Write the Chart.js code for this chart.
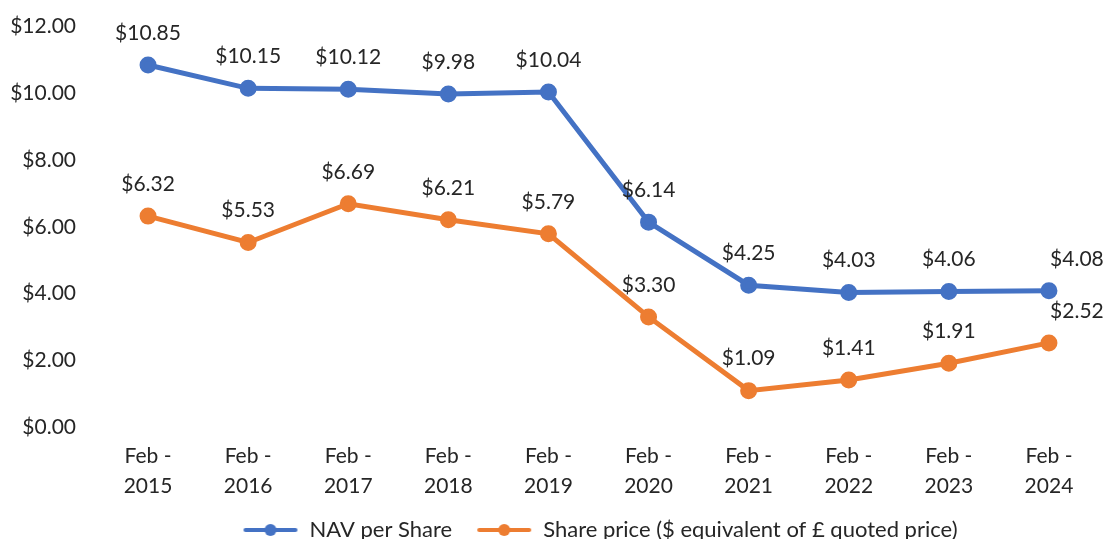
<!DOCTYPE html>
<html>
<head>
<meta charset="utf-8">
<script src="https://cdn.jsdelivr.net/npm/chart.js@4"></script>
<style>
  html, body { margin: 0; padding: 0; background: #fff; overflow: hidden; }
  #wrap { width: 1110px; height: 560px; }
</style>
</head>
<body>
<div id="wrap"><canvas id="myChart" width="1110" height="560"></canvas></div>
<script>
const years = ['2015', '2016', '2017', '2018', '2019', '2020', '2021', '2022', '2023', '2024'];
const navPerShare = [10.85, 10.15, 10.12, 9.98, 10.04, 6.14, 4.25, 4.03, 4.06, 4.08];
const sharePrice = [6.32, 5.53, 6.69, 6.21, 5.79, 3.30, 1.09, 1.41, 1.91, 2.52];
const yTicks = [0, 2, 4, 6, 8, 10, 12];

const labels = years.map(y => ['Feb -', y]);
const FONT = 'Lato, "Open Sans", sans-serif';
const FSIZE = 21;
const TXT = '#262626';

// legend marker: short line with a dot in the middle
function legendMarker(color) {
  const c = document.createElement('canvas');
  c.width = 56; c.height = 14;
  const g = c.getContext('2d');
  g.strokeStyle = color;
  g.lineWidth = 4;
  g.lineCap = 'round';
  g.beginPath(); g.moveTo(3, 7); g.lineTo(53, 7); g.stroke();
  g.fillStyle = color;
  g.beginPath(); g.arc(28, 7, 6, 0, Math.PI * 2); g.fill();
  return c;
}

// value labels above each point (last one nudged right like the original)
const valueLabels = {
  id: 'valueLabels',
  afterDatasetsDraw(chart) {
    const ctx = chart.ctx;
    ctx.save();
    ctx.font = FSIZE + 'px ' + FONT;
    ctx.fillStyle = TXT;
    ctx.textAlign = 'center';
    ctx.textBaseline = 'middle';
    chart.data.datasets.forEach((ds, i) => {
      const meta = chart.getDatasetMeta(i);
      meta.data.forEach((pt, j) => {
        const dx = j === meta.data.length - 1 ? 28 : 0;
        ctx.fillText('$' + ds.data[j].toFixed(2), pt.x + dx, pt.y - 32);
      });
    });
    ctx.restore();
  }
};

// legend sits a bit right of centre in the original
const legendShift = {
  id: 'legendShift',
  afterLayout(chart) {
    if (chart.legend) {
      chart.legend.left += 50;
      chart.legend.right += 50;
    }
  }
};

const ctx = document.getElementById('myChart').getContext('2d');
new Chart(ctx, {
  type: 'line',
  data: {
    labels: labels,
    datasets: [{
      label: 'NAV per Share',
      data: navPerShare,
      borderColor: '#4472C4',
      backgroundColor: '#4472C4',
      borderWidth: 5,
      tension: 0
    }, {
      label: 'Share price ($ equivalent of £ quoted price)',
      data: sharePrice,
      borderColor: '#ED7D31',
      backgroundColor: '#ED7D31',
      borderWidth: 5,
      tension: 0
    }]
  },
  options: {
    responsive: false,
    animation: false,
    layout: { padding: { top: 16, right: 10, left: 0, bottom: 9 } },
    elements: { point: { pointStyle: 'circle', radius: 6, borderWidth: 0 } },
    scales: {
      x: {
        offset: true,
        grid: { display: false },
        border: { display: false },
        ticks: { color: TXT, font: { family: FONT, size: FSIZE, lineHeight: 1.43 }, padding: 6, maxRotation: 0 },
        afterFit(scale) { scale.height = 68; }
      },
      y: {
        min: 0, max: 12,
        grid: { display: false },
        border: { display: false },
        afterBuildTicks(scale) { scale.ticks = yTicks.map(v => ({ value: v })); },
        ticks: {
          color: TXT,
          font: { family: FONT, size: FSIZE },
          padding: 14,
          callback: v => '$' + Number(v).toFixed(2)
        },
        afterFit(scale) { scale.width = 98; }
      }
    },
    plugins: {
      legend: {
        position: 'bottom',
        labels: {
          usePointStyle: true,
          pointStyleWidth: 56,
          color: TXT,
          font: { family: FONT, size: 22 },
          padding: 24,
          generateLabels(chart) {
            return chart.data.datasets.map((ds, i) => ({
              text: ds.label,
              fillStyle: ds.borderColor,
              strokeStyle: ds.borderColor,
              lineWidth: 0,
              pointStyle: legendMarker(ds.borderColor),
              fontColor: TXT,
              hidden: false,
              datasetIndex: i
            }));
          }
        }
      },
      tooltip: { enabled: false }
    }
  },
  plugins: [valueLabels, legendShift]
});
</script>
</body>
</html>
